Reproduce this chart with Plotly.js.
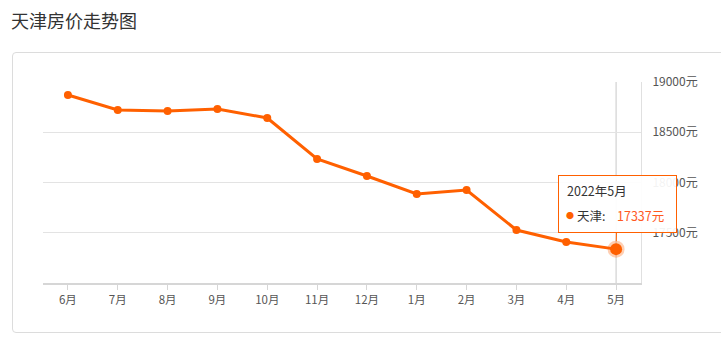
<!DOCTYPE html>
<html>
<head>
<meta charset="utf-8">
<script src="https://cdn.plot.ly/plotly-3.0.1.min.js"></script>
<style>
  html, body { margin: 0; padding: 0; background: #fff; }
  #wrap { position: relative; width: 721px; height: 350px; overflow: hidden; }
  #card { position: absolute; left: 12px; top: 52px; width: 730px; height: 281px;
          border: 1px solid #dcdcdc; border-radius: 4px; box-sizing: border-box; }
  #chart { position: absolute; left: 0; top: 0; width: 721px; height: 350px; }
</style>
</head>
<body>
<div id="wrap">
  <div id="card"></div>
  <div id="chart"></div>
</div>
<script>
const months = ['6月','7月','8月','9月','10月','11月','12月','1月','2月','3月','4月','5月'];
const prices = [18871, 18721, 18711, 18731, 18642, 18234, 18065, 17886, 17925, 17527, 17408, 17337];
const yTicks = [17500, 18000, 18500, 19000];
const yTickText = ['17500元', '18000元', '18500元', '19000元'];
const cityName = '天津';
const hoverDate = '2022年5月';

const orange = '#ff6000';
const last = months.length - 1;

const traces = [
  {
    type: 'scatter', mode: 'lines+markers',
    x: months, y: prices,
    line: { color: orange, width: 3 },
    marker: { color: orange, size: 8 },
    hoverinfo: 'skip', showlegend: false
  },
  {
    type: 'scatter', mode: 'markers',
    x: [months[last]], y: [prices[last]],
    marker: { color: orange, size: 12, line: { color: 'rgba(255,96,0,0.3)', width: 5 } },
    hoverinfo: 'skip', showlegend: false
  }
];

const tipBase = { xref: 'x', yref: 'y', x: months[last], y: prices[last], showarrow: false,
                  xanchor: 'left', yanchor: 'middle' };

const layout = {
  width: 721, height: 350,
  margin: { l: 43, r: 80, t: 82, b: 67 },
  paper_bgcolor: 'rgba(0,0,0,0)',
  plot_bgcolor: 'rgba(0,0,0,0)',
  font: { family: '"Noto Sans CJK SC", "Noto Sans", sans-serif', color: '#555', size: 11 },
  title: {
    text: '天津房价走势图',
    x: 11 / 721, xref: 'container', xanchor: 'left',
    y: 1 - 22 / 350, yref: 'container', yanchor: 'middle',
    font: { size: 18, color: '#333', family: '"Noto Sans CJK SC", sans-serif' }
  },
  xaxis: {
    type: 'category',
    range: [-0.5, months.length - 0.5],
    showgrid: false, zeroline: false,
    showline: true, linecolor: '#d6d6d6', linewidth: 2,
    ticks: 'outside', ticklen: 5, tickcolor: '#d6d6d6', tickwidth: 1,
    tickfont: { size: 11.5, color: '#555' },
    fixedrange: true
  },
  yaxis: {
    side: 'right',
    range: [17000, 19000],
    tickvals: yTicks, ticktext: yTickText,
    showgrid: true, gridcolor: '#e3e3e3', gridwidth: 1,
    zeroline: false,
    showline: true, linecolor: '#e0e0e0', linewidth: 1,
    ticks: '', ticklabelstandoff: 8,
    tickfont: { size: 12, color: '#555' },
    fixedrange: true
  },
  shapes: [
    {
      type: 'line', xref: 'x', yref: 'paper',
      x0: months[last], x1: months[last], y0: 0, y1: 1,
      line: { color: '#c8c8c8', width: 1 },
      layer: 'below'
    }
  ],
  annotations: [
    {
      xref: 'x', yref: 'y',
      x: months[last], y: prices[last],
      text: ' ',
      width: 117, height: 56, borderpad: 0,
      showarrow: true, arrowhead: 0, arrowcolor: orange, arrowwidth: 1,
      ax: 1, ay: -45, standoff: 8,
      bgcolor: 'rgba(255,255,255,0.93)',
      bordercolor: orange, borderwidth: 1,
      font: { size: 12, color: '#333' }
    },
    Object.assign({}, tipBase, { text: hoverDate, xshift: -51, yshift: 59,
      font: { size: 12.5, color: '#333' } }),
    Object.assign({}, tipBase, { text: '●', xshift: -52, yshift: 34,
      font: { size: 8, color: orange } }),
    Object.assign({}, tipBase, { text: cityName + ':', xshift: -41, yshift: 34,
      font: { size: 12.5, color: '#333' } }),
    Object.assign({}, tipBase, { text: prices[last] + '元', xshift: -1, yshift: 34,
      font: { size: 12.5, color: '#ff5a1f' } })
  ]
};

Plotly.newPlot('chart', traces, layout, { displayModeBar: false, staticPlot: true });
</script>
</body>
</html>
